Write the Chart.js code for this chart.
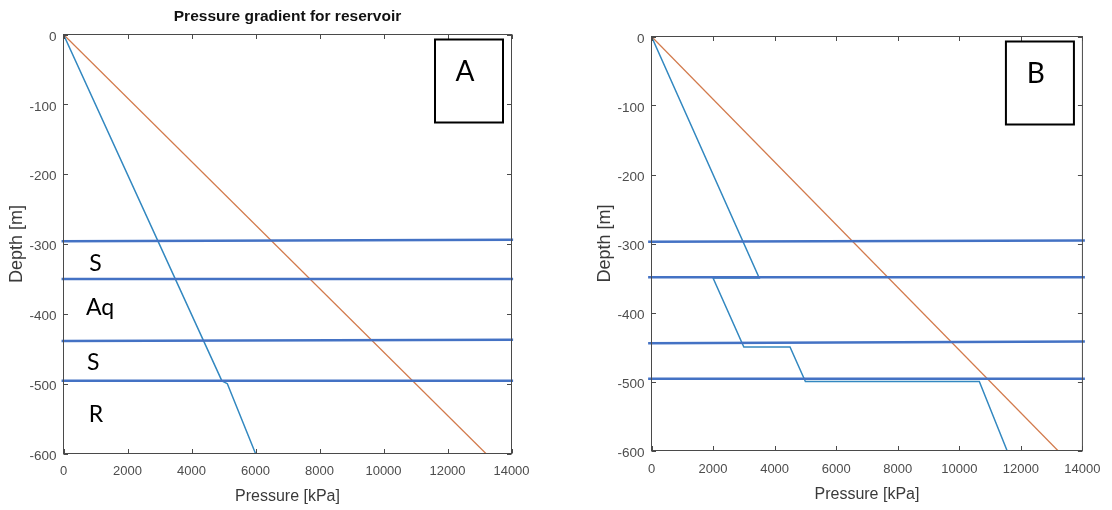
<!DOCTYPE html>
<html>
<head>
<meta charset="utf-8">
<script src="https://cdn.jsdelivr.net/npm/chart.js@4.4.1/dist/chart.umd.min.js"></script>
<style>
    html, body { margin: 0; padding: 0; background: #fff; }
    #wrap { position: relative; width: 1112px; height: 510px; }
    .panel { position: absolute; top: 0; width: 556px; height: 510px; }
    #panelA { left: 0; }
    #panelB { left: 556px; }
</style>
</head>
<body>
<div id="wrap">
    <div class="panel" id="panelA"><canvas id="chartA" width="556" height="510"></canvas></div>
    <div class="panel" id="panelB"><canvas id="chartB" width="556" height="510"></canvas></div>
</div>
<script>
// ============================================
// PRESSURE GRADIENT - CASE A / CASE B
// ============================================

// ========== AXES ==========
const pressureTicks = [0, 2000, 4000, 6000, 8000, 10000, 12000, 14000];
const depthTicks = [0, -100, -200, -300, -400, -500, -600];

// ========== OVERBURDEN (same in both cases) ==========
const overburdenPressure = [0, 13200];
const overburdenDepth = [0, -600];

// ========== PORE PRESSURE ==========
const porePressureA = [0, 4950, 5120, 6000];
const poreDepthA = [0, -496, -500, -600];

const porePressureB = [0, 3500, 2000, 3000, 4500, 5000, 10650, 11550];
const poreDepthB = [0, -350, -350, -450, -450, -500, -500, -600];

// ========== LAYER BOUNDARIES (depth at left end / right end) ==========
const boundaryPressureA = [-60, 14050];
const boundaryLeftA = [-296, -350, -439, -496];
const boundaryRightA = [-294, -350, -437, -496];

const boundaryPressureB = [-110, 14080];
const boundaryLeftB = [-297.5, -349, -444.5, -496];
const boundaryRightB = [-295.5, -349, -442, -496];

// ========== LAYER NAMES ==========
const layerNames = ['S', 'Aq', 'S', 'R'];
const layerNamePressure = [1000, 1140, 930, 1015];
const layerNameDepth = [-338, -401, -481, -555];

// ========== HELPERS ==========
const SANS = "'Liberation Sans', Arial, sans-serif";

function toPoints(xs, ys) {
    return xs.map((v, i) => ({ x: v, y: ys[i] }));
}

function boundaryDatasets(xs, left, right) {
    return left.map((d, i) => ({
        data: toPoints(xs, [d, right[i]]),
        borderColor: '#4472c4',
        borderWidth: 2.5,
        clip: false,
        order: 0
    }));
}

// box, inward ticks, title, layer names and the panel letter
const matlabFrame = {
    id: 'matlabFrame',
    afterDraw(chart, args, opts) {
        const { ctx, chartArea: a, scales: { x, y } } = chart;
        ctx.save();

        // layer names
        if (opts.names) {
            ctx.fillStyle = '#000';
            ctx.font = "23px Lato, 'Open Sans', sans-serif";
            ctx.textAlign = 'center';
            ctx.textBaseline = 'alphabetic';
            opts.names.forEach((n, i) => {
                ctx.fillText(n, x.getPixelForValue(layerNamePressure[i]), y.getPixelForValue(layerNameDepth[i]));
            });
        }

        // axes box
        ctx.strokeStyle = '#4a4a4a';
        ctx.lineWidth = 1;
        ctx.strokeRect(a.left, a.top, a.right - a.left, a.bottom - a.top);

        // ticks pointing inward on all four sides
        const tl = 4.5;
        ctx.beginPath();
        pressureTicks.forEach(v => {
            const px = Math.round(x.getPixelForValue(v)) + 0.5;
            ctx.moveTo(px, a.bottom); ctx.lineTo(px, a.bottom - tl);
            ctx.moveTo(px, a.top); ctx.lineTo(px, a.top + tl);
        });
        depthTicks.forEach(v => {
            const py = Math.round(y.getPixelForValue(v)) + 0.5;
            ctx.moveTo(a.left, py); ctx.lineTo(a.left + tl, py);
            ctx.moveTo(a.right, py); ctx.lineTo(a.right - tl, py);
        });
        ctx.stroke();

        // title
        if (opts.title) {
            ctx.fillStyle = '#111';
            ctx.font = 'bold 15.5px ' + SANS;
            ctx.textAlign = 'center';
            ctx.textBaseline = 'middle';
            ctx.fillText(opts.title, (a.left + a.right) / 2, 17);
        }

        // panel letter in its box
        const bx = a.right - 76.5, by = a.top + 5;
        ctx.strokeStyle = '#000';
        ctx.lineWidth = 2;
        ctx.strokeRect(bx, by, 68, 83);
        ctx.fillStyle = '#000';
        ctx.font = "28px Lato, 'Open Sans', sans-serif";
        ctx.textAlign = 'center';
        ctx.textBaseline = 'alphabetic';
        ctx.fillText(opts.letter, bx + 30, by + 41);

        ctx.restore();
    }
};

// ========== BUILD ONE PANEL ==========
function makePanel(canvasId, pore, porDepth, bx, bl, br, layout, frameOpts) {
    const ctx = document.getElementById(canvasId).getContext('2d');
    return new Chart(ctx, {
        type: 'scatter',
        data: {
            datasets: [
                ...boundaryDatasets(bx, bl, br),
                {
                    data: toPoints(pore, porDepth),
                    borderColor: '#3388c0',
                    borderWidth: 1.5,
                    order: 1
                },
                {
                    data: toPoints(overburdenPressure, overburdenDepth),
                    borderColor: '#d27a4c',
                    borderWidth: 1.2,
                    order: 2
                }
            ]
        },
        options: {
            responsive: false,
            animation: false,
            showLine: true,
            elements: { point: { radius: 0, hoverRadius: 0 }, line: { tension: 0 } },
            layout: { padding: layout.padding },
            plugins: {
                legend: { display: false },
                tooltip: { enabled: false },
                matlabFrame: frameOpts
            },
            scales: {
                x: {
                    type: 'linear',
                    min: 0,
                    max: 14000,
                    afterBuildTicks: s => { s.ticks = pressureTicks.map(v => ({ value: v })); },
                    afterFit: s => { s.height = layout.xHeight; },
                    grid: { display: false, drawTicks: false },
                    border: { display: false },
                    ticks: {
                        padding: layout.xPad,
                        color: '#4d4d4d',
                        font: { family: SANS, size: 13 },
                        maxRotation: 0,
                        autoSkip: false,
                        callback: v => String(v)
                    },
                    title: {
                        display: true,
                        text: 'Pressure [kPa]',
                        color: '#3a3a3a',
                        font: { family: SANS, size: 16 },
                        padding: { top: 0, bottom: layout.xTitlePad }
                    }
                },
                y: {
                    type: 'linear',
                    min: -600,
                    max: 0,
                    afterBuildTicks: s => { s.ticks = depthTicks.map(v => ({ value: v })); },
                    afterFit: s => { s.width = 63.5; },
                    grid: { display: false, drawTicks: false },
                    border: { display: false },
                    ticks: {
                        padding: 7,
                        labelOffset: 2.5,
                        color: '#4d4d4d',
                        font: { family: SANS, size: 13.5 },
                        callback: v => String(v)
                    },
                    title: {
                        display: true,
                        text: 'Depth [m]',
                        color: '#3a3a3a',
                        font: { family: SANS, size: 18 },
                        padding: { top: 6, bottom: 0 }
                    }
                }
            }
        },
        plugins: [matlabFrame]
    });
}

// ========== INIT ==========
makePanel('chartA', porePressureA, poreDepthA, boundaryPressureA, boundaryLeftA, boundaryRightA,
    { padding: { left: 0, right: 44.5, top: 34.5, bottom: 0 }, xHeight: 56.5, xPad: 10.5, xTitlePad: 3.5 },
    { title: 'Pressure gradient for reservoir', names: layerNames, letter: 'A' });

makePanel('chartB', porePressureB, poreDepthB, boundaryPressureB, boundaryLeftB, boundaryRightB,
    { padding: { left: 32, right: 18.5, top: 36.5, bottom: 0 }, xHeight: 59.5, xPad: 11.5, xTitlePad: 5.5 },
    { letter: 'B' });
</script>
</body>
</html>
